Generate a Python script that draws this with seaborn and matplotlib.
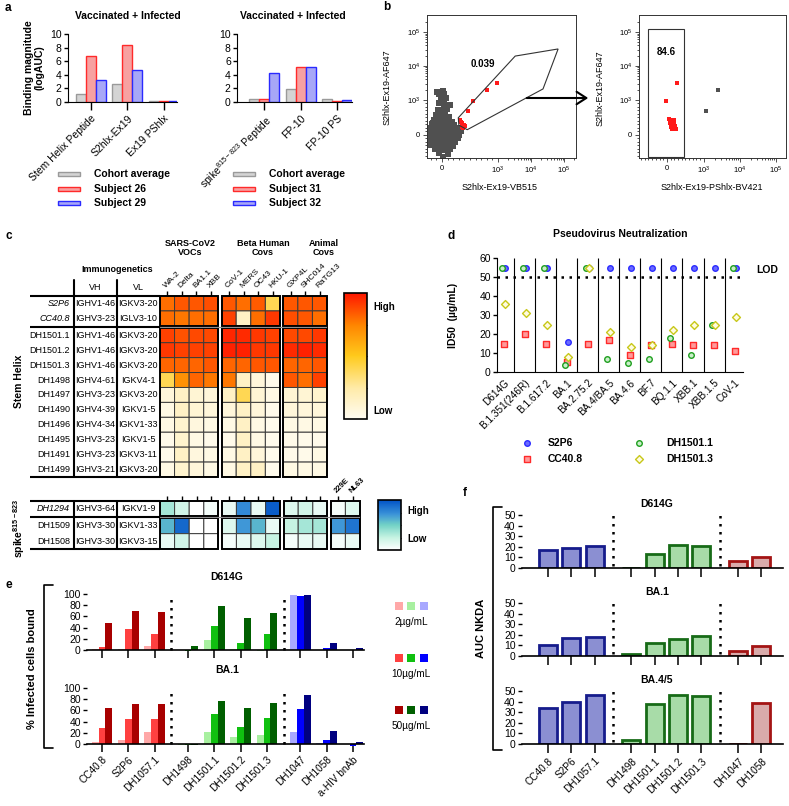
import numpy as np
import pandas as pd
import matplotlib
matplotlib.use('Agg')
import matplotlib.pyplot as plt
import matplotlib.transforms as mtransforms
from matplotlib.colors import LinearSegmentedColormap, Normalize
from matplotlib.patches import Rectangle, Polygon
import seaborn as sns

# ============================================================
# data
# ============================================================
# --- a: binding magnitude (logAUC) ---
a_left_cats = ['Stem Helix Peptide', 'S2hlx-Ex19', 'Ex19 PShlx']
a_left_names = ['Cohort average', 'Subject 26', 'Subject 29']
a_left_cohort = [1.2, 2.7, 0.2]
a_left_s26 = [6.7, 8.4, 0.1]
a_left_s29 = [3.2, 4.7, 0.15]
a_right_cats = ['spike$^{815-823}$ Peptide', 'FP-10', 'FP-10 PS']
a_right_names = ['Cohort average', 'Subject 31', 'Subject 32']
a_right_cohort = [0.4, 1.9, 0.4]
a_right_s31 = [0.4, 5.2, 0.1]
a_right_s32 = [4.2, 5.1, 0.25]

# --- b: flow cytometry events ---
b1_gray_x = [-120, -40, 60, 150, -200, -100, 0, 90, 200, -250, -170, -90, -10, 70, 150, 230,
             -265, -190, -110, -30, 50, 130, 210, 285, -255, -180, -100, -20, 60, 140, 220, 300,
             -230, -150, -70, 10, 90, 170, 250, 330, -210, -130, -50, 30, 110, 190, 270,
             -180, -100, -20, 60, 140, 220, -150, -70, 10, 90, 170, -110, -30, 50, 130,
             -80, 0, 80, -60, 40, 150, -20, 70, -50, 30, 10, -90, -60, 100, 20,
             -140, -60, 40, 120, -220, -160, 180, 250, -30, 110, 0,
             -230, -150, -60, 30, 120, 200, 280, -200, -120, -40, 40, 120, 200, 260,
             -170, -90, 0, 90, 180, -130, -50, 40, 120, -90, -10, 70, -40, 40]
b1_gray_y = [-400, -380, -420, -390, -300, -310, -290, -300, -320, -200, -210, -190, -200, -220, -180, -210,
             -100, -90, -110, -100, -80, -100, -120, -90, 0, 10, -10, 0, 20, -10, 0, 10,
             100, 110, 90, 100, 120, 100, 80, 110, 200, 190, 210, 200, 180, 220, 200,
             300, 310, 290, 300, 320, 280, 420, 400, 430, 410, 380, 560, 540, 570, 520,
             720, 700, 740, 900, 880, 860, 1150, 1100, 1450, 1500, 1850, 1700, -520, -540, -640,
             50, 150, 250, 60, -50, 350, 150, -30, 620, 460, 380,
             -150, -140, -160, -150, -150, -140, -40, 50, 60, 40, 60, 50, 60, -60,
             150, 160, 140, 150, 130, 250, 250, 260, 240, 360, 350, 360, 480, 470]
b1_red_x = [980, 800, 550, 460, 320, 340, 360, 390, 410, 350, 380]
b1_red_y = [3160, 1970, 970, 690, 430, 380, 330, 290, 260, 220, 200]
b1_gate_x = [290, 3300, 66000, 23000, 450, 300]
b1_gate_y = [490, 19500, 31600, 2100, 150, 280]
b2_gray_x = [2450, 1140]
b2_gray_y = [1970, 690]
b2_red_x = [270, -30, 60, 120, 180, 90, 150, 210, 100, 160, 250, 130, 200]
b2_red_y = [3200, 970, 460, 420, 380, 330, 300, 260, 230, 200, 180, 170, 430]
b2_gate_x = [-510, 460, 460, -510]
b2_gate_y = [-630, -630, 123000, 123000]

# --- c: binding heatmaps ---
c_cols = ['WA-2', 'Delta', 'BA1.1', 'XBB', 'CoV-1', 'MERS', 'OC43', 'HKU-1', 'GXP4L', 'SHC014', 'RaTG13']
c_col_groups = [4, 4, 3]
c_rows = ['S2P6', 'CC40.8', 'DH1501.1', 'DH1501.2', 'DH1501.3', 'DH1498', 'DH1497', 'DH1490',
          'DH1496', 'DH1495', 'DH1491', 'DH1499']
c_row_groups = [2, 10]
c_vh = ['IGHV1-46', 'IGHV3-23', 'IGHV1-46', 'IGHV1-46', 'IGHV1-46', 'IGHV4-61', 'IGHV3-23',
        'IGHV4-39', 'IGHV4-34', 'IGHV3-23', 'IGHV3-23', 'IGHV3-21']
c_vl = ['IGKV3-20', 'IGLV3-10', 'IGKV3-20', 'IGKV3-20', 'IGKV3-20', 'IGKV4-1', 'IGKV3-20',
        'IGKV1-5', 'IGKV1-33', 'IGKV1-5', 'IGKV3-11', 'IGKV3-20']
c_vals = [
    [0.80, 0.85, 0.85, 0.87, 0.85, 0.80, 0.84, 0.40, 0.85, 0.85, 0.85],
    [0.80, 0.78, 0.80, 0.80, 0.90, 0.15, 0.80, 0.92, 0.87, 0.85, 0.80],
    [0.90, 0.86, 0.88, 0.88, 0.96, 0.95, 0.92, 0.90, 0.88, 0.88, 0.92],
    [0.92, 0.90, 0.90, 0.90, 0.97, 0.97, 0.92, 0.92, 0.95, 0.97, 0.95],
    [0.82, 0.82, 0.82, 0.85, 0.82, 0.82, 0.85, 0.85, 0.82, 0.82, 0.85],
    [0.40, 0.70, 0.82, 0.78, 0.78, 0.15, 0.08, 0.03, 0.85, 0.80, 0.90],
    [0.08, 0.15, 0.10, 0.08, 0.15, 0.40, 0.10, 0.05, 0.10, 0.10, 0.12],
    [0.05, 0.15, 0.10, 0.08, 0.08, 0.15, 0.08, 0.03, 0.08, 0.08, 0.08],
    [0.05, 0.12, 0.07, 0.05, 0.05, 0.15, 0.05, 0.02, 0.05, 0.05, 0.05],
    [0.03, 0.12, 0.05, 0.03, 0.03, 0.15, 0.05, 0.02, 0.03, 0.03, 0.03],
    [0.03, 0.15, 0.07, 0.05, 0.05, 0.15, 0.08, 0.02, 0.03, 0.03, 0.05],
    [0.05, 0.12, 0.08, 0.05, 0.05, 0.15, 0.15, 0.02, 0.05, 0.05, 0.05],
]
s_cols = c_cols + ['229E', 'NL63']
s_col_groups = [4, 4, 3, 2]
s_rows = ['DH1294', 'DH1509', 'DH1508']
s_row_groups = [1, 2]
s_vh = ['IGHV3-64', 'IGHV3-30', 'IGHV3-30']
s_vl = ['IGKV1-9', 'IGKV1-33', 'IGKV3-15']
s_vals = [
    [0.35, 0.20, 0.00, 0.05, 0.10, 0.75, 0.10, 0.95, 0.15, 0.20, 0.10, 0.05, 0.15],
    [0.60, 0.90, 0.00, 0.00, 0.15, 0.70, 0.60, 0.10, 0.25, 0.35, 0.35, 0.70, 0.85],
    [0.10, 0.20, 0.00, 0.00, 0.05, 0.10, 0.15, 0.25, 0.05, 0.10, 0.10, 0.05, 0.10],
]

# --- d: pseudovirus neutralization ID50 ---
d_variants = ['D614G', 'B.1.351(246R)', 'B.1.617.2', 'BA.1', 'BA.2.75.2', 'BA.4/BA.5',
              'BA.4.6', 'BF.7', 'BQ.1.1', 'XBB.1', 'XBB.1.5', 'CoV-1']
d_names = ['S2P6', 'CC40.8', 'DH1501.1', 'DH1501.3']
d_s2p6 = [55, 55, 55, 16, 55, 55, 55, 55, 55, 55, 55, 55]
d_cc408 = [15, 20, 15, 5.5, 15, 17, 9, 14, 15, 14, 14, 11]
d_dh15011 = [55, 55, 55, 3.5, 55, 7, 5, 7, 18, 9, 25, 55]
d_dh15013 = [36, 31, 25, 8, 55, 21, 13, 14, 22, 25, 25, 29]
d_lod = 50

# --- e: % infected cells bound ---
e_mabs = ['CC40.8', 'S2P6', 'DH1057.1', 'DH1498', 'DH1501.1', 'DH1501.2', 'DH1501.3',
          'DH1047', 'DH1058', 'a-HIV bnAb']
e_group = [0, 0, 0, 1, 1, 1, 1, 2, 2, 2]
e_conc = ['2µg/mL', '10µg/mL', '50µg/mL']
e_d614g_2 = [2, 2, 7, 0, 18, 2, -1, 98, 0, 0]
e_d614g_10 = [6, 38, 29, -2, 42, 13, 28, 97, 3, 0]
e_d614g_50 = [48, 70, 68, 7, 79, 58, 66, 98, 13, 4]
e_ba1_2 = [3, 8, 21, -1, 22, 12, 16, 22, 2, 0]
e_ba1_10 = [29, 44, 44, -2, 54, 30, 47, 63, 8, -3]
e_ba1_50 = [64, 71, 72, -1, 77, 64, 73, 88, 24, 4]

# --- f: AUC NKDA ---
f_mabs = ['CC40.8', 'S2P6', 'DH1057.1', 'DH1498', 'DH1501.1', 'DH1501.2', 'DH1501.3',
          'DH1047', 'DH1058']
f_group = [0, 0, 0, 1, 1, 1, 1, 2, 2]
f_d614g = [17, 19, 21, 0, 13.5, 22, 21, 7, 10]
f_ba1 = [10, 17, 18, 2, 12, 16.5, 19, 5, 9.5]
f_ba45 = [34, 40, 46.5, 4, 38, 46, 45, 0, 39]

# ============================================================
# style
# ============================================================
sns.set_style('ticks', {'axes.edgecolor': 'black', 'xtick.color': 'black', 'ytick.color': 'black',
                        'text.color': 'black', 'axes.labelcolor': 'black'})
plt.rcParams['font.family'] = ['Liberation Sans', 'DejaVu Sans']
plt.rcParams['mathtext.default'] = 'regular'

a_fills = ['#d4d4d4', '#f7a1a1', '#a7a7f7']
a_edges = ['#9a9a9a', '#ff2a2a', '#2a2aff']
e_palettes = [['#ffa8a8', '#ff4040', '#a80000'],
              ['#a8f0a0', '#10c010', '#005f00'],
              ['#a8a8ff', '#0000ff', '#000080']]
f_fills = ['#8b8fd2', '#a8dca8', '#d9abab']
f_edges = ['#161c8c', '#176b17', '#a41414']
d_styles = [('o', '#6b6bff', '#2b2bff', 0.06),
            ('s', '#ff9a9a', '#ff2a2a', 0.0),
            ('o', '#c9efc9', '#1f9f1f', -0.08),
            ('D', '#fffbe0', '#c8c81a', 0.03)]
red_cmap = LinearSegmentedColormap.from_list(
    'heat', [(0, '#fffcf2'), (0.25, '#ffeaa6'), (0.5, '#ffca1c'), (0.75, '#ff8400'), (1, '#ff1500')])
blue_cmap = LinearSegmentedColormap.from_list(
    'cool', [(0, '#ffffff'), (0.25, '#c6f3e2'), (0.5, '#72d2c6'), (0.72, '#3a92d8'), (1, '#0052c6')])

W, H = 789, 806
fig = plt.figure(figsize=(W / 100, H / 100), dpi=100)


def px_axes(x0, y0, x1, y1):
    ax = fig.add_axes([x0 / W, 1 - y1 / H, (x1 - x0) / W, (y1 - y0) / H])
    ax.patch.set_alpha(0)
    return ax


ov = px_axes(0, 0, W, H)
ov.set_xlim(0, W)
ov.set_ylim(H, 0)
ov.axis('off')
ov.set_zorder(20)


def txt(x, y, s, size=7, bold=False, **kw):
    kw.setdefault('ha', 'center')
    kw.setdefault('va', 'center')
    ov.text(x, y, s, fontsize=size, fontweight='bold' if bold else 'normal', **kw)


# ============================================================
# a
# ============================================================
def binding_panel(x0, x1, xlim, cats, names, series, title_x, leg_x):
    ax = px_axes(x0, 34, x1, 102)
    df = pd.DataFrame({'cat': cats * 3, 'who': np.repeat(names, 3),
                       'val': series[0] + series[1] + series[2]})
    sns.barplot(data=df, x='cat', y='val', hue='who', hue_order=names, palette=a_fills,
                saturation=1, width=0.82, errorbar=None, legend=False, linewidth=1.0, ax=ax)
    for cont, ec in zip(ax.containers, a_edges):
        for bar in cont:
            bar.set_edgecolor(ec)
    ax.set_xlim(*xlim)
    ax.set_ylim(0, 10)
    ax.set_yticks(range(0, 11, 2))
    ax.set_xticks(range(3))
    ax.set_xticklabels(cats, rotation=45, ha='right', rotation_mode='anchor', fontsize=7.5)
    ax.tick_params(axis='x', length=6, width=1, pad=2)
    ax.tick_params(axis='y', length=3, width=1, labelsize=7.5, pad=1.5)
    ax.set_xlabel('')
    ax.set_ylabel('')
    sns.despine(ax=ax)
    txt(title_x, 16, 'Vaccinated + Infected', 7.5, True)
    for k, name in enumerate(names):
        y = 174 + 14.5 * k
        ov.add_patch(Rectangle((leg_x, y - 2), 22, 4, fc=a_fills[k], ec=a_edges[k], lw=1))
        txt(leg_x + 36, y, name, 7.5, True, ha='left')


binding_panel(68, 177, (-0.63, 2.36), a_left_cats, a_left_names,
              [a_left_cohort, a_left_s26, a_left_s29], 128, 58)
binding_panel(237, 352, (-0.74, 2.4), a_right_cats, a_right_names,
              [a_right_cohort, a_right_s31, a_right_s32], 293, 233)
txt(5, 8, 'a', 8.5, True, ha='left')
txt(34, 68, 'Binding magnitude\n(logAUC)', 7.5, True, rotation=90, linespacing=1.1)


# ============================================================
# b
# ============================================================
def flow_axes(x0, x1, xlim, linscale_x):
    ax = px_axes(x0, 15, x1, 158)
    ax.set_xscale('symlog', linthresh=1000, linscale=linscale_x)
    ax.set_yscale('symlog', linthresh=1000, linscale=0.93)
    ylim = (-657, 3.16e5)
    ax.set_xlim(*xlim)
    ax.set_ylim(*ylim)
    major = [0, 1e3, 1e4, 1e5]
    labs = ['0', '$10^3$', '$10^4$', '$10^5$']
    ax.set_xticks(major)
    ax.set_xticklabels(labs)
    ax.set_yticks(major)
    ax.set_yticklabels(labs)
    minor = list(range(-900, 1000, 100)) + [k * 10.0 ** e for e in (3, 4) for k in range(2, 10)] + [2e5]
    ax.set_xticks([m for m in minor if xlim[0] < m < xlim[1] and m != 0], minor=True)
    ax.set_yticks([m for m in minor if ylim[0] < m < ylim[1] and m != 0], minor=True)
    ax.tick_params(which='both', labelsize=5.5, width=0.6, color='#333', pad=2)
    ax.tick_params(which='major', length=3)
    ax.tick_params(which='minor', length=1.5)
    for s in ax.spines.values():
        s.set_linewidth(0.7)
        s.set_color('#333')
    return ax


b1 = flow_axes(427, 576, (-268, 2.3e5), 1.53)
b1.scatter(b1_gray_x, b1_gray_y, s=15, marker='s', color='#505050', linewidths=0)
b1.scatter(b1_red_x, b1_red_y, s=6, marker='s', color='#ff1a1a', linewidths=0)
b1.add_patch(Polygon(list(zip(b1_gate_x, b1_gate_y)), closed=True, fill=False, ec='#333', lw=0.8))

b2 = flow_axes(639, 786, (-757, 1.9e5), 0.92)
b2.scatter(b2_gray_x, b2_gray_y, s=5, marker='s', color='#505050', linewidths=0)
b2.scatter(b2_red_x, b2_red_y, s=6, marker='s', color='#ff1a1a', linewidths=0)
b2.add_patch(Polygon(list(zip(b2_gate_x, b2_gate_y)), closed=True, fill=False, ec='#333', lw=0.8))

txt(383, 7, 'b', 8.5, True, ha='left')
txt(387, 87, 'S2hlx-Ex19-AF647', 6.5, rotation=90)
txt(600, 88, 'S2hlx-Ex19-AF647', 6.5, rotation=90)
txt(500, 188, 'S2hlx-Ex19-VB515', 6.5)
txt(712, 188, 'S2hlx-Ex19-PShlx-BV421', 6.5)
txt(483, 64, '0.039', 7, True)
txt(666, 52, '84.6', 7, True)
ov.annotate('', xy=(591, 98), xytext=(524, 98),
            arrowprops=dict(arrowstyle='->,head_length=0.7,head_width=0.45', lw=1.5, color='k'))


# ============================================================
# c
# ============================================================
def layout(sizes, gap):
    widths, real, spans = [], [], []
    for k, n in enumerate(sizes):
        if k:
            widths.append(gap)
        start = len(widths)
        for _ in range(n):
            real.append(len(widths))
            widths.append(1.0)
        spans.append((start, len(widths)))
    edges = np.concatenate([[0.0], np.cumsum(widths)])
    return edges, real, spans


def heat_block(box, vals, col_groups, row_groups, cmap, col_labels, label_size, label_bold):
    ax = px_axes(*box)
    xe, xr, xsp = layout(col_groups, 0.23)
    ye, yr, ysp = layout(row_groups, 0.13)
    C = np.full((len(ye) - 1, len(xe) - 1), np.nan)
    C[np.ix_(yr, xr)] = np.array(vals)
    ax.pcolor(xe, ye, np.ma.masked_invalid(C), cmap=cmap, vmin=0, vmax=1,
              edgecolors='#3a3a3a', linewidth=0.7)
    for r0, r1 in ysp:
        for c0, c1 in xsp:
            ax.add_patch(Rectangle((xe[c0], ye[r0]), xe[c1] - xe[c0], ye[r1] - ye[r0],
                                   fill=False, ec='black', lw=1.4, clip_on=False))
    for (r0, r1), (n0, n1) in zip(ysp[:-1], ysp[1:]):
        ax.axhline((ye[r1] + ye[n0]) / 2, color='#909090', lw=0.8)
    ax.set_xlim(xe[0], xe[-1])
    ax.set_ylim(ye[-1], ye[0])
    xc = (xe[:-1] + xe[1:]) / 2
    ax.xaxis.tick_top()
    ax.set_xticks(xc[xr])
    ax.set_xticklabels(col_labels, rotation=45, ha='left', rotation_mode='anchor',
                       fontsize=label_size, fontweight='bold' if label_bold else 'normal')
    ax.tick_params(axis='x', length=3.5, width=1, pad=1.5)
    ax.set_yticks([])
    for s in ax.spines.values():
        s.set_visible(False)
    yc = (ye[:-1] + ye[1:]) / 2
    seps = [ye[0]] + [(ye[r1] + ye[n0]) / 2 for (r0, r1), (n0, n1) in zip(ysp[:-1], ysp[1:])] + [ye[-1]]
    return ax, yc[yr], seps


def table(ax, centers, seps, names, vh, vl, italic_rows):
    tr = mtransforms.blended_transform_factory(ov.transData, ax.transData)
    for k, (yy, nm, h, l) in enumerate(zip(centers, names, vh, vl)):
        ov.text(70, yy, nm, transform=tr, ha='right', va='center', fontsize=6.5,
                style='italic' if k in italic_rows else 'normal')
        ov.text(95, yy, h, transform=tr, ha='center', va='center', fontsize=6.5)
        ov.text(138, yy, l, transform=tr, ha='center', va='center', fontsize=6.5)
    for yy in seps:
        ov.plot([30, 160], [yy, yy], transform=tr, color='black', lw=1.5, solid_capstyle='butt')
    return tr


hm, hm_c, hm_s = heat_block((160, 296, 327, 477), c_vals, c_col_groups, c_row_groups, red_cmap,
                            c_cols, 6, False)
table(hm, hm_c, hm_s, c_rows, c_vh, c_vl, [0, 1])
for xv in (74, 117):
    ov.plot([xv, xv], [280, 477], color='black', lw=1.5)

lab = [''] * len(c_cols) + s_cols[len(c_cols):]
hb, hb_c, hb_s = heat_block((160, 501, 360, 549), s_vals, s_col_groups, s_row_groups, blue_cmap,
                            lab, 5.5, True)
tr_b = table(hb, hb_c, hb_s, s_rows, s_vh, s_vl, [0])
for xv in (74, 117):
    ov.plot([xv, xv], [hb_s[0], hb_s[-1]], transform=tr_b, color='black', lw=1.5)

for box, cmap, hi, lo in [((344, 293, 367, 419), red_cmap, 307, 411),
                          ((378, 500, 401, 550), blue_cmap, 511, 539)]:
    cax = px_axes(*box)
    cb = fig.colorbar(plt.cm.ScalarMappable(norm=Normalize(0, 1), cmap=cmap), cax=cax)
    cb.set_ticks([0.25, 0.5, 0.75])
    cb.ax.tick_params(direction='in', length=2.5, width=0.8, left=True, right=True,
                      labelleft=False, labelright=False)
    cb.outline.set_linewidth(1.2)
    txt(box[2] + 6, hi, 'High', 7, True, ha='left')
    txt(box[2] + 6, lo, 'Low', 7, True, ha='left')

txt(6, 236, 'c', 8.5, True, ha='left')
txt(190, 248, 'SARS-CoV2\nVOCs', 6.5, True, linespacing=1.1)
txt(263, 248, 'Beta Human\nCovs', 6.5, True, linespacing=1.1)
txt(324, 248, 'Animal\nCovs', 6.5, True, linespacing=1.1)
txt(117, 270, 'Immunogenetics', 6.5, True)
txt(95, 287, 'VH', 6.5)
txt(138, 287, 'VL', 6.5)
txt(19, 381, 'Stem Helix', 7.5, True, rotation=90)
txt(19, 528, 'spike$^{815-823}$', 7.5, True, rotation=90)

# ============================================================
# d
# ============================================================
dax = px_axes(497, 258, 743, 372)
xs = np.arange(len(d_variants))
for vals, (mk, fc, ec, off) in zip([d_s2p6, d_cc408, d_dh15011, d_dh15013], d_styles):
    sns.scatterplot(x=xs + off, y=vals, marker=mk, s=16, color=fc, edgecolor=ec, linewidth=1,
                    ax=dax, zorder=3, legend=False)
dax.vlines(xs[:-1] + 0.5, 0, 60, color='black', lw=0.8)
dax.axhline(d_lod, color='black', lw=1.8, ls=(0, (1, 2.2)))
dax.set_xlim(-0.33, 11.38)
dax.set_ylim(0, 60)
dax.set_yticks(range(0, 61, 10))
dax.set_xticks(xs)
dax.set_xticklabels(d_variants, rotation=45, ha='right', rotation_mode='anchor', fontsize=7.2)
dax.tick_params(axis='x', length=0, pad=4)
dax.tick_params(axis='y', length=3, width=1, labelsize=7.5, pad=1.5)
sns.despine(ax=dax)
txt(448, 236, 'd', 8.5, True, ha='left')
txt(620, 234, 'Pseudovirus Neutralization', 7.5, True)
txt(767, 270, 'LOD', 7.5, True)
txt(453, 315, 'ID50  (µg/mL)', 7.5, True, rotation=90)
for k, (name, (mk, fc, ec, off)) in enumerate(zip(d_names, d_styles)):
    lx = 527 if k < 2 else 639
    ly = 443 if k % 2 == 0 else 459
    ov.scatter([lx], [ly], marker=mk, s=16, facecolor=fc, edgecolor=ec, linewidth=1)
    txt(lx + 21 + (6 if k >= 2 else 0), ly, name, 7.5, True, ha='left')

# ============================================================
# e
# ============================================================
E_GAP = 0.27
e_pos = [i + E_GAP * g for i, g in enumerate(e_group)]


def infected_panel(y_top, v2, v10, v50, labels):
    ax = px_axes(87, y_top, 364, y_top + 60.5)
    df = pd.DataFrame({'pos': e_pos * 3, 'grp': e_group * 3,
                       'conc': np.repeat(e_conc, len(e_mabs)), 'val': v2 + v10 + v50})
    for g in range(3):
        sns.barplot(data=df[df.grp == g], x='pos', y='val', hue='conc', hue_order=e_conc,
                    palette=e_palettes[g], native_scale=True, width=0.78, saturation=1,
                    errorbar=None, legend=False, edgecolor='none', linewidth=0, ax=ax)
    for g in range(2):
        last = max(p for p, gg in zip(e_pos, e_group) if gg == g)
        first = min(p for p, gg in zip(e_pos, e_group) if gg == g + 1)
        ax.vlines((last + first) / 2, 0, 100, color='black', lw=1.8, linestyles=(0, (1, 2.2)))
    # spine position first: moving a spine resets the tick objects
    ax.spines['bottom'].set_position(('data', 0))
    ax.spines['bottom'].set_linewidth(1.2)
    sns.despine(ax=ax, left=True)
    ax.set_xlim(-0.57, 9.96)
    ax.set_ylim(-8, 100)
    ax.set_yticks(range(0, 101, 20))
    ax.set_xticks(e_pos)
    ax.set_xticklabels(e_mabs if labels else [], rotation=45, ha='right', rotation_mode='anchor',
                       fontsize=7.2)
    ax.tick_params(axis='x', length=5.5, width=1.1, pad=2)
    ax.tick_params(axis='y', length=3, width=1, labelsize=7.5, pad=1.5)
    ax.set_xlabel('')
    ax.set_ylabel('')


infected_panel(594, e_d614g_2, e_d614g_10, e_d614g_50, False)
infected_panel(688, e_ba1_2, e_ba1_10, e_ba1_50, True)
txt(6, 585, 'e', 8.5, True, ha='left')
txt(227, 577, 'D614G', 7.5, True)
txt(227, 670, 'BA.1', 7.5, True)
txt(32, 669, '% Infected cells bound', 8, True, rotation=90)
ov.plot([53, 44, 44, 53], [585, 585, 748, 748], color='black', lw=1.2)
for k, conc in enumerate(e_conc):
    ly = 606 + 52 * k
    for g in range(3):
        ov.scatter([399 + 12.5 * g], [ly], marker='s', s=40, color=e_palettes[g][k], linewidths=0)
    txt(411, ly + 16, conc, 7.2)

# ============================================================
# f
# ============================================================
F_GAP = 0.58
f_pos = [i + F_GAP * g for i, g in enumerate(f_group)]


def nkda_panel(y_top, vals, title, labels):
    ax = px_axes(522, y_top, 783, y_top + 53)
    for g in range(3):
        px = [p for p, gg in zip(f_pos, f_group) if gg == g]
        vv = [v for v, gg in zip(vals, f_group) if gg == g]
        sns.barplot(x=px, y=vv, native_scale=True, color=f_fills[g], edgecolor=f_edges[g],
                    linewidth=2, width=0.77, saturation=1, errorbar=None, ax=ax)
    for g in range(2):
        last = max(p for p, gg in zip(f_pos, f_group) if gg == g)
        first = min(p for p, gg in zip(f_pos, f_group) if gg == g + 1)
        ax.vlines((last + first) / 2, 1.5, 50, color='black', lw=1.8, linestyles=(0, (1, 2.2)))
    ax.spines['bottom'].set_linewidth(1.2)
    sns.despine(ax=ax, left=True)
    ax.set_xlim(-1.12, 10.09)
    ax.set_ylim(0, 50)
    ax.set_yticks(range(0, 51, 10))
    ax.set_xticks(f_pos)
    ax.set_xticklabels(f_mabs if labels else [], rotation=45, ha='right', rotation_mode='anchor',
                       fontsize=7.2)
    ax.tick_params(axis='x', length=6.5, width=1.1, pad=2)
    ax.tick_params(axis='y', length=3, width=1, labelsize=7.5, pad=1.5)
    ax.set_xlabel('')
    ax.set_ylabel('')
    txt(657, y_top - 11, title, 7.5, True)


nkda_panel(515, f_d614g, 'D614G', False)
nkda_panel(603, f_ba1, 'BA.1', False)
nkda_panel(691, f_ba45, 'BA.4/5', True)
txt(463, 493, 'f', 8.5, True, ha='left')
txt(481, 628, 'AUC NKDA', 8, True, rotation=90)
ov.plot([502, 493, 493, 502], [507, 507, 750, 750], color='black', lw=1.2)

fig.savefig('out.png', dpi=100)
